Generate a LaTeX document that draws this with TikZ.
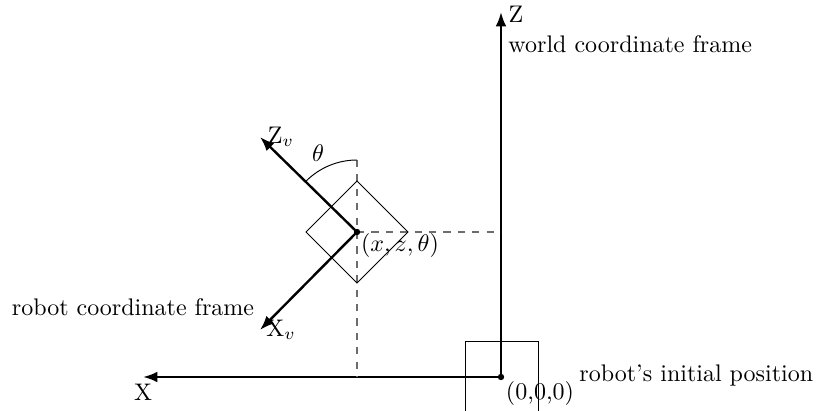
\documentclass[tikz,border=0pt]{standalone}
\usetikzlibrary{arrows.meta}
\begin{document}
\begin{tikzpicture}[x=0.41667pt,y=-0.41667pt,
  axis/.style={line width=1pt,-{Latex[length=6pt,width=4.5pt]}},
  guide/.style={dashed,gray!85!black,line width=0.5pt},
  thinline/.style={line width=0.4pt},
  lbl/.style={inner sep=0pt}]
\useasboundingbox (0,0) rectangle (817,411);
% world frame
\coordinate (O) at (501,377);
\coordinate (Ztip) at (501,12);
\coordinate (Xtip) at (143,377);
\draw[thinline] (465,341) rectangle (538,420);
\draw[axis] (O) -- (Ztip);
\draw[axis] (O) -- (Xtip);
\fill (O) circle (3.2);
% robot
\coordinate (R) at (357,232);
\coordinate (Rtop) at (357,160);
\coordinate (Rbot) at (357,377);
\coordinate (Rright) at (501,232);
\draw[guide] (Rtop) -- (Rbot);
\draw[guide] (R) -- (Rright);
\draw[thinline] (357,181) -- (408,232) -- (357,283) -- (306,232) -- cycle;
\coordinate (Zv) at (260,137);
\coordinate (Xv) at (260,330);
\draw[axis] (R) -- (Zv);
\draw[axis] (R) -- (Xv);
\fill (R) circle (3.2);
\draw[thinline] (Rtop) arc[start angle=-90,end angle=-135,radius=72];
% labels
\node[lbl] (lZ) at (516,14) {Z};
\node[lbl,anchor=west] (lworld) at (508,44) {world coordinate frame};
\node[lbl] (lX) at (143,392) {X};
\node[lbl] (lO) at (540,394) {(0,0,0)};
\node[lbl,anchor=west] (linit) at (579,376) {robot's initial position};
\node[lbl] (lrob) at (133,307) {robot coordinate frame};
\node[lbl] (lZv) at (281,137) {Z$_v$};
\node[lbl] (lXv) at (281,330) {X$_v$};
\node[lbl] (lth) at (318,153) {$\theta$};
\node[lbl] (lpose) at (400,246) {$(x,z,\theta)$};
\end{tikzpicture}
\end{document}
